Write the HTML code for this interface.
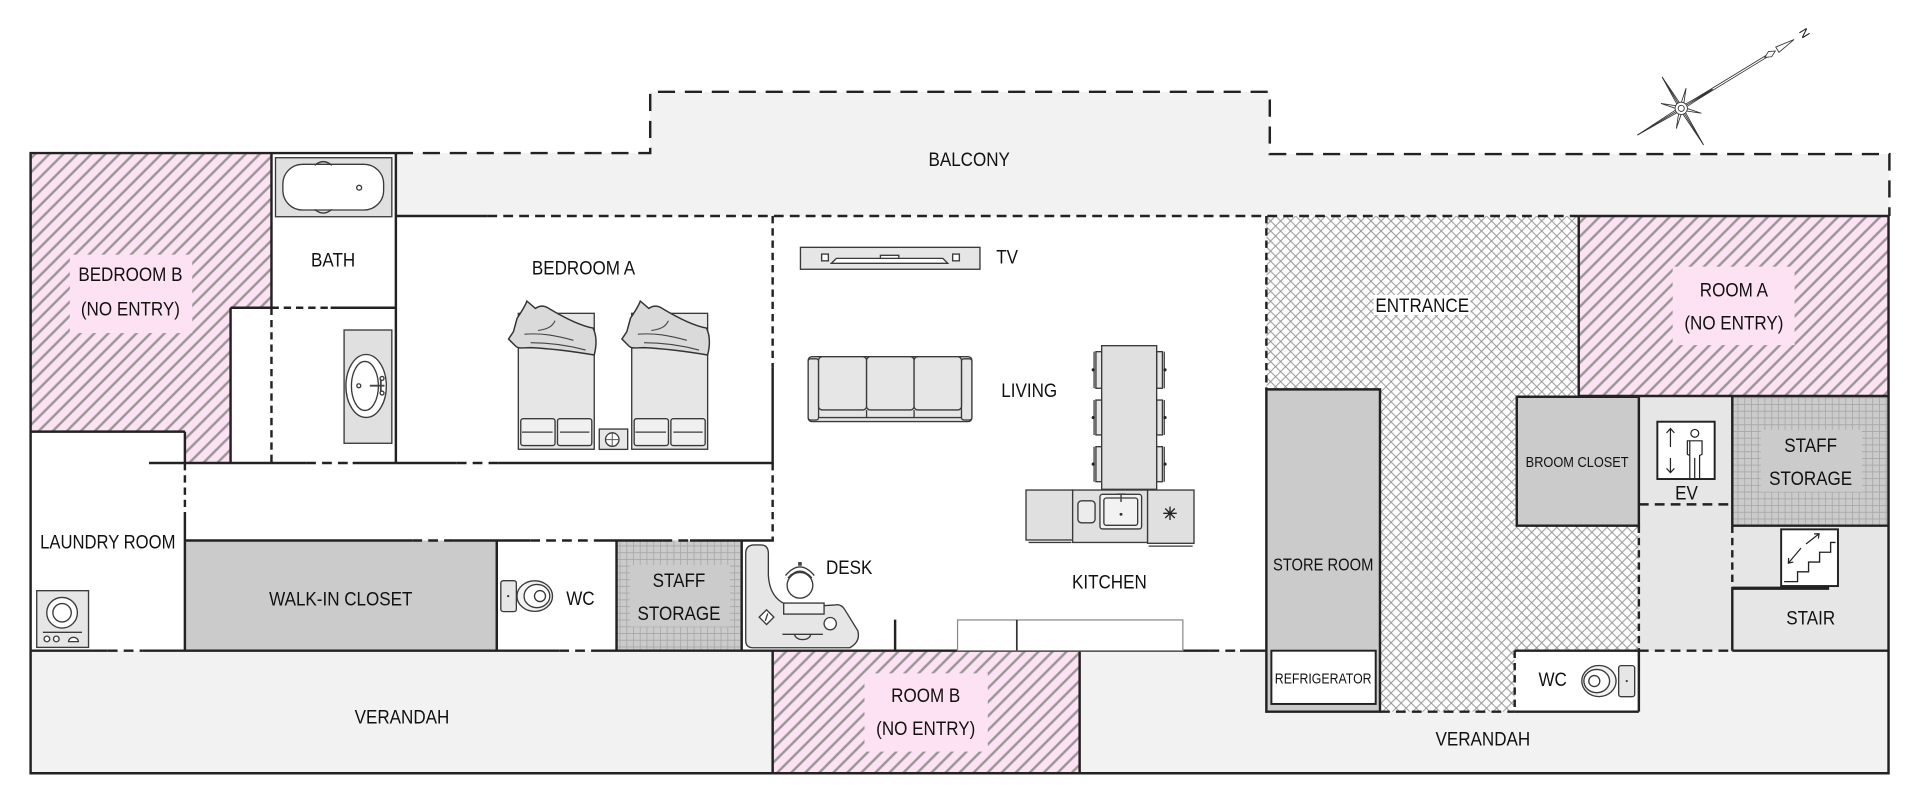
<!DOCTYPE html>
<html><head><meta charset="utf-8"><style>
html,body{margin:0;padding:0;background:#fff;overflow:hidden;}
svg{display:block;}
text{font-family:"Liberation Sans",Arial,sans-serif;fill:#111;}
.w{stroke:#222;stroke-width:2;fill:none;}
.d1{stroke:#222;stroke-width:2;fill:none;stroke-dasharray:14 8;}
.d2{stroke:#222;stroke-width:2;fill:none;stroke-dasharray:8 5;}
.d3{stroke:#222;stroke-width:2;fill:none;stroke-dasharray:6 4;}
.f{stroke:#3a3a3a;stroke-width:1.1;}
</style></head><body>
<svg width="1920" height="804" viewBox="0 0 1568 656.6" preserveAspectRatio="none" xmlns="http://www.w3.org/2000/svg">
<defs>
<pattern id="hatch" patternUnits="userSpaceOnUse" width="8.1" height="8.1" patternTransform="rotate(45)">
<rect width="8.1" height="8.1" fill="#fde2f3"/>
<line x1="4" y1="0" x2="4" y2="8.1" stroke="#979797" stroke-width="2"/>
</pattern>
<pattern id="cross" patternUnits="userSpaceOnUse" width="5.8" height="5.8" patternTransform="rotate(45)">
<rect width="5.8" height="5.8" fill="#fff"/>
<line x1="2.9" y1="0" x2="2.9" y2="5.8" stroke="#8e8e8e" stroke-width="0.75"/>
<line x1="0" y1="2.9" x2="5.8" y2="2.9" stroke="#8e8e8e" stroke-width="0.75"/>
</pattern>
<pattern id="grid" patternUnits="userSpaceOnUse" width="5.5" height="5.5">
<rect width="5.5" height="5.5" fill="#cbcbcb"/>
<path d="M0 0.3H5.5M0.3 0V5.5" stroke="#a6a6a6" stroke-width="0.7"/>
</pattern>
</defs>

<!-- fills -->
<polygon points="323.3,125 531,125 531,75 1037,75 1037,125.8 1543,125.8 1543,176.4 323.3,176.4" fill="#f2f2f2"/>
<rect x="25" y="531.4" width="1517.3" height="100.1" fill="#f2f2f2"/>
<polygon points="25,125 221.7,125 221.7,251.3 188.3,251.3 188.3,378.1 151,378.1 151,352.5 25,352.5" fill="url(#hatch)"/>
<rect x="1289.3" y="176.4" width="253" height="147" fill="url(#hatch)"/>
<rect x="631" y="531.4" width="250.7" height="100.1" fill="url(#hatch)"/>
<rect x="57" y="208" width="100" height="64" fill="#fde2f3"/>
<rect x="1366" y="217.8" width="99.6" height="64" fill="#fde2f3"/>
<rect x="706" y="549.9" width="100.7" height="63.9" fill="#fde2f3"/>

<rect x="151" y="441.4" width="254.7" height="90" fill="#cbcbcb"/>
<rect x="503.5" y="441.4" width="102.2" height="90" fill="url(#grid)"/>
<rect x="514.5" y="461.4" width="81.7" height="50.4" fill="#cbcbcb"/>
<rect x="1414.7" y="324" width="127.6" height="105.3" fill="url(#grid)"/>
<rect x="1438" y="351" width="82.6" height="50.6" fill="#cbcbcb"/>

<polygon points="1034.2,176.4 1289.3,176.4 1289.3,324 1238.7,324 1238.7,429.3 1338.4,429.3 1338.4,531.4 1237,531.4 1237,581.2 1127,581.2 1127,318 1034.2,318" fill="url(#cross)"/>
<rect x="1121.8" y="240.9" width="79.2" height="16.3" fill="#fff"/>
<rect x="1034.2" y="318" width="92.8" height="263.2" fill="#cbcbcb"/>
<rect x="1038.3" y="531.4" width="85.2" height="43.5" fill="#fff" stroke="#222" stroke-width="1.6"/>
<rect x="1238.7" y="324" width="99.7" height="105.3" fill="#cbcbcb"/>
<rect x="1338.4" y="324" width="76.3" height="207.4" fill="#e6e6e6"/>
<rect x="1414.7" y="429.3" width="127.6" height="102.1" fill="#e6e6e6"/>
<rect x="1237" y="531.4" width="101.4" height="49.8" fill="#fff"/>

<!-- solid walls -->
<path class="w" d="M25,125H323.3 M25,124V632.5 M24,631.5H1543.3 M1542.3,175.4V632.5 M1289.3,176.4H1543.3
M221.7,125V251.3 M323.3,125V378.1
M188.3,251.3H221.7 M188.3,251.3V378.1 M25,352.5H151 M151,352.5V378.1
M270,251.3H323.3 M323.3,176.4H398
M121.7,378.1H250 M288,378.1H373 M407,378.1H632 M631,300V378.1
M151,419V531.4
M151,441.4H336.7 M370,441.4H433 M485,441.4H541 M563.5,441.4H632
M405.7,441.4V531.4 M503.5,441.4V531.4 M605.7,441.4V531.4
M25,531.4H88 M116.7,531.4H456.7 M483,531.4H987.7 M1012.7,531.4H1034.2
M631,531.4V631.5 M881.7,531.4V631.5
M731,506V531.4
M1034.2,318H1127V581.2H1034.2Z
M1289.3,176.4V323.4 M1289.3,323.4H1542.3
M1238.7,324H1338.4V429.3H1238.7Z
M1414.7,324V429.3 M1414.7,480.4V531.4
M1414.7,429.3H1542.3 M1414.7,531.4H1542.3
M1237,531.4H1338.4 M1338.4,531.4V581.2 M1237,581.2H1338.4"/>
<path d="M1414.7,480.4H1493.8" stroke="#222" stroke-width="2.6"/>

<!-- dashed -->
<path class="d1" d="M323.3,125H531V75H1037V125.8H1543V176.4"/>
<path class="d2" d="M398,176.4H1289.3"/>
<path class="d3" d="M221.7,251.3H270 M221.7,251.3V378.1 M151,378.1V419 M631,176.4V300 M631,378.1V441.4 M1034.2,176.4V318 M1338.4,429.3V531.4 M1414.7,429.3V480.4 M1237,531.4V581.2"/>
<path class="d2" d="M250,378.1H288 M373,378.1H407 M336.7,441.4H370 M433,441.4H485 M541,441.4H563.5 M88,531.4H116.7 M456.7,531.4H483 M987.7,531.4H1012.7 M1338.4,531.4H1414.7 M1338.4,411.9H1414.7 M1127,581.2H1237"/>

<!-- bathtub -->
<rect x="225" y="128.8" width="95" height="48.2" fill="#e0e0e0" class="f"/>
<rect x="231" y="134.2" width="82.3" height="37.3" rx="16" fill="#fff" class="f"/>
<path d="M257,135 Q264,129 271,135 M257,171 Q264,177 271,171" class="f" fill="none"/>
<circle cx="293.3" cy="153.3" r="2" fill="#fff" class="f"/>
<!-- sink -->
<rect x="281" y="269.5" width="39" height="92.5" fill="#e0e0e0" class="f"/>
<ellipse cx="299" cy="315.2" rx="16.5" ry="25.7" fill="#fff" class="f"/>
<ellipse cx="298" cy="315.2" rx="11" ry="20" fill="#fff" class="f"/>
<circle cx="293" cy="315" r="1.6" fill="#fff" class="f"/>
<path d="M302,315H314 M311,309V321" stroke="#444" stroke-width="1.5"/>
<circle cx="312" cy="309" r="1.6" fill="#fff" class="f"/><circle cx="312" cy="321" r="1.6" fill="#fff" class="f"/>

<!-- beds -->
<g transform="translate(423.3,255.9)">
<rect x="0" y="0" width="62" height="111" fill="#e6e6e6" class="f"/>
<rect x="2" y="86" width="28" height="22" rx="2" fill="#f0f0f0" class="f"/>
<rect x="32" y="86" width="28" height="22" rx="2" fill="#f0f0f0" class="f"/>
<path d="M3,97H28 M34,97H58" class="f"/>
<path d="M-1,4 C3,-2 6,-7 7,-10 L14,-4 C18,-7 22,-6 25,-4 C35,2 50,10 61,12 C64,18 64,26 62,34 C50,32 30,29 10,28 C4,28 0,29 -2,27 L-8,21 L-4,15 Z" fill="#dadada" stroke="#333" stroke-width="1.2"/>
<path d="M5,17 C20,16 30,18 45,22 M10,24 C25,24 40,26 55,30 M30,6 C28,10 25,13 16,14" fill="none" stroke="#444" stroke-width="0.9"/>
</g>
<g transform="translate(515.9,255.9)">
<rect x="0" y="0" width="62" height="111" fill="#e6e6e6" class="f"/>
<rect x="2" y="86" width="28" height="22" rx="2" fill="#f0f0f0" class="f"/>
<rect x="32" y="86" width="28" height="22" rx="2" fill="#f0f0f0" class="f"/>
<path d="M3,97H28 M34,97H58" class="f"/>
<path d="M-1,4 C3,-2 6,-7 7,-10 L14,-4 C18,-7 22,-6 25,-4 C35,2 50,10 61,12 C64,18 64,26 62,34 C50,32 30,29 10,28 C4,28 0,29 -2,27 L-8,21 L-4,15 Z" fill="#dadada" stroke="#333" stroke-width="1.2"/>
<path d="M5,17 C20,16 30,18 45,22 M10,24 C25,24 40,26 55,30 M30,6 C28,10 25,13 16,14" fill="none" stroke="#444" stroke-width="0.9"/>
</g>
<rect x="489.4" y="350.4" width="23.2" height="16.6" fill="#e6e6e6" class="f"/>
<circle cx="500" cy="359" r="5.5" fill="#fff" class="f"/>
<path d="M495,359H505 M500,354V364" stroke="#555" stroke-width="0.8"/>

<!-- TV -->
<rect x="653.7" y="202" width="146.6" height="17.9" fill="#e6e6e6" class="f"/>
<path d="M679,215 L683,211 L770,211 L774,215 Z" fill="#fff" class="f"/>
<rect x="719" y="208.5" width="15" height="2.5" fill="#fff" class="f"/>
<rect x="671" y="207.5" width="5.5" height="5.5" fill="#fff" class="f"/>
<rect x="778" y="207.5" width="5.5" height="5.5" fill="#fff" class="f"/>

<!-- sofa -->
<rect x="660" y="291.3" width="133.7" height="53" rx="3" fill="#e6e6e6" class="f"/>
<rect x="660" y="293" width="8.5" height="50" rx="2" fill="#e6e6e6" class="f"/>
<rect x="785.2" y="293" width="8.5" height="50" rx="2" fill="#e6e6e6" class="f"/>
<rect x="668.5" y="291.3" width="39.2" height="43.5" rx="3" fill="#e6e6e6" class="f"/>
<rect x="707.7" y="291.3" width="38.8" height="43.5" rx="3" fill="#e6e6e6" class="f"/>
<rect x="746.5" y="291.3" width="38.7" height="43.5" rx="3" fill="#e6e6e6" class="f"/>
<path d="M668.5,341H785.2 M707.7,334.8V341 M746.5,334.8V341" class="f"/>

<!-- dining -->
<g fill="#e6e6e6" class="f">
<rect x="895" y="287.2" width="4.7" height="29.9"/><rect x="895" y="326.7" width="4.7" height="28.5"/><rect x="895" y="364.8" width="4.7" height="28.6"/>
<rect x="944.6" y="287.2" width="4.7" height="29.9"/><rect x="944.6" y="326.7" width="4.7" height="28.5"/><rect x="944.6" y="364.8" width="4.7" height="28.6"/>
</g>
<path d="M893.5,287.2V317.1 M893.5,326.7V355.2 M893.5,364.8V393.4 M950.8,287.2V317.1 M950.8,326.7V355.2 M950.8,364.8V393.4" stroke="#333" stroke-width="1"/>
<g fill="#222"><circle cx="892.8" cy="302" r="1.3"/><circle cx="892.8" cy="341" r="1.3"/><circle cx="892.8" cy="379" r="1.3"/><circle cx="951.4" cy="302" r="1.3"/><circle cx="951.4" cy="341" r="1.3"/><circle cx="951.4" cy="379" r="1.3"/></g>
<rect x="899.7" y="282.3" width="44.9" height="117.3" fill="#e0e0e0" class="f"/>

<!-- kitchen -->
<rect x="837.9" y="400.2" width="38.1" height="40.8" fill="#e0e0e0" class="f"/>
<path d="M840,443H875" class="f"/>
<rect x="876" y="400.2" width="61.2" height="42.8" fill="#e0e0e0" class="f"/>
<rect x="937.2" y="400.2" width="37.9" height="43.5" fill="#e0e0e0" class="f"/>
<path d="M938,446H974" class="f"/>
<rect x="880.3" y="409" width="14" height="18" rx="3" fill="#ececec" class="f"/>
<rect x="898.3" y="403.7" width="34" height="28.3" rx="2" fill="#f2f2f2" class="f"/>
<rect x="901.5" y="406.7" width="27.6" height="22.3" rx="2" fill="#f2f2f2" class="f"/>
<path d="M915.5,403V410 M912,403.5H919" stroke="#444" stroke-width="1.2"/>
<circle cx="915.5" cy="420" r="1.2" fill="#333"/>
<path d="M950,419.2H961 M955.5,413.7V424.7 M951.6,415.3L959.4,423.1 M959.4,415.3L951.6,423.1" stroke="#222" stroke-width="1.1"/>
<rect x="782" y="506.3" width="48.4" height="25.1" fill="#fff" stroke="#888" stroke-width="1"/>
<rect x="830.4" y="506.3" width="135.6" height="25.1" fill="#fff" stroke="#888" stroke-width="1"/>
<path d="M830.4,506.3V531.4" stroke="#333" stroke-width="1.4"/>

<!-- desk -->
<path d="M609,452 Q609,445 616,445 L621,445 Q627.5,445 627.5,452 L627.5,470 Q629,494 652,496 L682,494 Q687,493 690,498 L700.5,515 Q703,524 694,529 L615,529 Q609,529 609,523 Z" fill="#e6e6e6" class="f"/>
<rect x="640" y="492.5" width="33" height="9" fill="#f0f0f0" class="f"/>
<circle cx="653.3" cy="478" r="10.5" fill="#fff" class="f"/>
<path d="M641.5,470 Q653.3,456 665,470 M643.5,472 Q653.3,461 663,472" fill="none" class="f"/>
<rect x="651.8" y="459" width="3" height="3" fill="#444"/>
<path d="M620,504 L626,498 L632,504 L626,510 Z" fill="#fff" class="f"/>
<path d="M625,507L627,501" class="f"/>
<circle cx="678" cy="509.3" r="5" fill="#fff" class="f"/>
<path d="M639,518H672 M649,518 A6,4 0 0 0 662,518" fill="none" class="f"/>

<!-- washer -->
<rect x="30" y="482.4" width="42.3" height="46.3" fill="#e6e6e6" class="f"/>
<circle cx="50.7" cy="500.4" r="12.5" fill="#fff" class="f"/>
<circle cx="50.7" cy="500.4" r="7.5" fill="#fff" class="f"/>
<path d="M35,516.4H67" class="f"/>
<circle cx="38.3" cy="521.8" r="2.3" fill="#fff" class="f"/><circle cx="46" cy="521.8" r="2.3" fill="#fff" class="f"/>
<path d="M56,524 A4,3.5 0 0 1 64,524 Z" fill="#fff" class="f"/>

<!-- toilet left -->
<rect x="409" y="474.2" width="12.7" height="25.3" rx="2" fill="#e6e6e6" class="f"/>
<ellipse cx="436.7" cy="486.8" rx="14.5" ry="12.5" fill="#f2f2f2" class="f"/>
<ellipse cx="438.5" cy="486.8" rx="10.5" ry="9.5" fill="#fff" class="f"/>
<circle cx="441" cy="486.8" r="4.5" fill="#fff" class="f"/>
<circle cx="415" cy="486.8" r="0.9" fill="#333"/>
<!-- toilet right -->
<rect x="1321.9" y="543.6" width="13.1" height="25.4" rx="2" fill="#e6e6e6" class="f"/>
<ellipse cx="1305.8" cy="556.2" rx="14" ry="12.7" fill="#f2f2f2" class="f"/>
<ellipse cx="1304" cy="556.2" rx="10.5" ry="9.5" fill="#fff" class="f"/>
<circle cx="1302" cy="556.2" r="4.5" fill="#fff" class="f"/>
<circle cx="1328.5" cy="556.2" r="0.9" fill="#333"/>

<!-- EV icon -->
<rect x="1353.5" y="344.4" width="46.8" height="46.8" fill="#fff" stroke="#222" stroke-width="1.6"/>
<path d="M1364.2,350V365 M1361,353.5L1364.2,350L1367.4,353.5 M1364.2,374V386 M1361,382.5L1364.2,386L1367.4,382.5" fill="none" stroke="#222" stroke-width="1"/>
<circle cx="1384.1" cy="353.9" r="3.2" fill="#fff" stroke="#222" stroke-width="1"/>
<path d="M1380,391V372 M1380,372 L1378,371 L1378,360 L1390,360 L1390,371 L1388,372 V391 M1384,391V374 M1380,372V360" fill="none" stroke="#222" stroke-width="1"/>

<!-- stair icon -->
<rect x="1454.6" y="432.3" width="46.4" height="46.3" fill="#fff" stroke="#222" stroke-width="1.6"/>
<path d="M1457,475H1468V467H1477V459H1486V451H1495V443H1499" fill="none" stroke="#222" stroke-width="1.1"/>
<path d="M1474.9,444.3L1485.6,435.9 M1481.5,436L1485.6,435.9L1485,439.8 M1470.8,447.6L1460.5,459.9 M1460.7,455.7L1460.5,459.9L1464.5,459" fill="none" stroke="#222" stroke-width="1"/>

<!-- compass -->
<g transform="translate(1373,88.5) rotate(-31.4)" stroke="#333" stroke-width="0.7" fill="#fff">
<path d="M0,-0.8H88 M0,0.8H88" fill="none"/>
<path d="M80,0 L85,-2.5 L90,0 L85,2.5 Z"/>
<path d="M92,-2.5 L108,0 L92,2.5 Z"/>
<polygon points="30,0 3,1.3 12,12 1.3,3 0,35 -1.3,3 -12,12 -3,1.3 -42,0 -3,-1.3 -12,-12 -1.3,-3 0,-30 1.3,-3 12,-12 3,-1.3"/>
<path d="M0,0L30,0 M0,0L0,35 M0,0L-42,0 M0,0L0,-30" fill="none"/>
<circle r="5"/><circle r="2.5"/>
<text x="118" y="0" font-size="10" transform="rotate(90 118 0)" text-anchor="middle" dy="0.35em" stroke="none" fill="#333">N</text>
</g>

<!-- labels -->
<g font-size="16" text-anchor="middle">
<text transform="translate(791.5,130) scale(0.87,1)" dy="0.35em">BALCONY</text>
<text transform="translate(106.5,224) scale(0.87,1)" dy="0.35em">BEDROOM B</text>
<text transform="translate(106.5,252) scale(0.87,1)" dy="0.35em">(NO ENTRY)</text>
<text transform="translate(272,212) scale(0.87,1)" dy="0.35em">BATH</text>
<text transform="translate(476.5,218.5) scale(0.87,1)" dy="0.35em">BEDROOM A</text>
<text transform="translate(822.5,209.5) scale(0.87,1)" dy="0.35em">TV</text>
<text transform="translate(840.5,318.5) scale(0.87,1)" dy="0.35em">LIVING</text>
<text transform="translate(1161.5,249) scale(0.87,1)" dy="0.35em">ENTRANCE</text>
<text transform="translate(1416,236.5) scale(0.87,1)" dy="0.35em">ROOM A</text>
<text transform="translate(1416,263.5) scale(0.87,1)" dy="0.35em">(NO ENTRY)</text>
<text transform="translate(1377.3,402.3) scale(0.87,1)" dy="0.35em">EV</text>
<text transform="translate(1478.7,363.4) scale(0.87,1)" dy="0.35em">STAFF</text>
<text transform="translate(1478.7,390.6) scale(0.87,1)" dy="0.35em">STORAGE</text>
<text transform="translate(1478.7,504.4) scale(0.87,1)" dy="0.35em">STAIR</text>
<text transform="translate(88,442.4) scale(0.85,1)" dy="0.35em">LAUNDRY ROOM</text>
<text transform="translate(278.3,489) scale(0.87,1)" dy="0.35em">WALK-IN CLOSET</text>
<text transform="translate(474,488.6) scale(0.87,1)" dy="0.35em">WC</text>
<text transform="translate(554.5,473.7) scale(0.87,1)" dy="0.35em">STAFF</text>
<text transform="translate(554.5,500.9) scale(0.87,1)" dy="0.35em">STORAGE</text>
<text transform="translate(693.5,463) scale(0.87,1)" dy="0.35em">DESK</text>
<text transform="translate(906,475) scale(0.87,1)" dy="0.35em">KITCHEN</text>
<text transform="translate(1268,554.5) scale(0.87,1)" dy="0.35em">WC</text>
<text transform="translate(328.3,585.3) scale(0.87,1)" dy="0.35em">VERANDAH</text>
<text transform="translate(1211,603.4) scale(0.87,1)" dy="0.35em">VERANDAH</text>
<text transform="translate(756,567.6) scale(0.87,1)" dy="0.35em">ROOM B</text>
<text transform="translate(756,594.8) scale(0.87,1)" dy="0.35em">(NO ENTRY)</text>
<text transform="translate(1080.6,461) scale(0.86,1)" dy="0.35em" font-size="14">STORE ROOM</text>
<text transform="translate(1080.6,554) scale(0.84,1)" dy="0.35em" font-size="12">REFRIGERATOR</text>
<text transform="translate(1288,377) scale(0.87,1)" dy="0.35em" font-size="12">BROOM CLOSET</text>
</g>
</svg>
</body></html>
